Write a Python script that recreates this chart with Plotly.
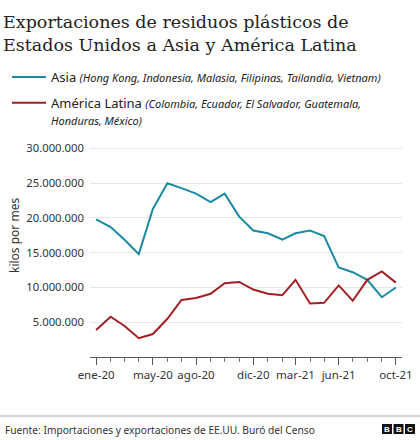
import plotly.graph_objects as go

# monthly exports, kilos per month
months = [
    "2020-01-01", "2020-02-01", "2020-03-01", "2020-04-01", "2020-05-01", "2020-06-01",
    "2020-07-01", "2020-08-01", "2020-09-01", "2020-10-01", "2020-11-01", "2020-12-01",
    "2021-01-01", "2021-02-01", "2021-03-01", "2021-04-01", "2021-05-01", "2021-06-01",
    "2021-07-01", "2021-08-01", "2021-09-01", "2021-10-01",
]
asia = [
    19.8e6, 18.7e6, 16.9e6, 14.8e6, 21.3e6, 25.0e6, 24.3e6, 23.5e6, 22.3e6, 23.5e6, 20.2e6,
    18.2e6, 17.8e6, 16.9e6, 17.8e6, 18.2e6, 17.4e6, 12.9e6, 12.2e6, 11.1e6, 8.6e6, 10.0e6,
]
latam = [
    3.9e6, 5.8e6, 4.5e6, 2.7e6, 3.3e6, 5.5e6, 8.2e6, 8.5e6, 9.1e6, 10.6e6, 10.8e6,
    9.7e6, 9.1e6, 8.9e6, 11.1e6, 7.7e6, 7.8e6, 10.3e6, 8.1e6, 11.1e6, 12.3e6, 10.7e6,
]
tick_months = ["2020-01-01", "2020-05-01", "2020-08-01", "2020-12-01",
               "2021-03-01", "2021-06-01", "2021-10-01"]
tick_labels = ["ene-20", "may-20", "ago-20", "dic-20", "mar-21", "jun-21", "oct-21"]
y_ticks = [5e6, 10e6, 15e6, 20e6, 25e6, 30e6]

SANS = "Noto Sans"
W, H = 420, 440
L, R, T, B = 90, 18, 145, 83
PW, PH = W - L - R, H - T - B


def px(x):
    return (x - L) / PW


def py(y):
    return (H - B - y) / PH


fig = go.Figure()

fig.add_trace(go.Scatter(
    x=months, y=asia, mode="lines", legendgroup="asia",
    line=dict(color="#1a8aa3", width=2),
    name="Asia <span style='font-size:11px'><i>(Hong Kong, Indonesia, Malasia, Filipinas, Tailandia, Vietnam)</i></span>",
))
fig.add_trace(go.Scatter(
    x=months, y=latam, mode="lines", legendgroup="latam",
    line=dict(color="#a31f23", width=2),
    name="América Latina <span style='font-size:11px'><i>(Colombia, Ecuador, El Salvador, Guatemala,</i></span>"
         "<br><span style='font-size:11px'><i>Honduras, México)</i></span>",
))

fig.update_layout(
    width=W, height=H,
    margin=dict(l=L, r=R, t=T, b=B, autoexpand=False),
    paper_bgcolor="white", plot_bgcolor="white",
    separators=",.",
    font=dict(family=SANS, color="#404040"),
    legend=dict(
        x=px(7), y=py(62), xanchor="left", yanchor="top",
        orientation="v", traceorder="grouped",
        font=dict(family=SANS, size=13, color="#222222"),
        itemwidth=34, tracegroupgap=6, valign="top",
        bgcolor="rgba(0,0,0,0)",
    ),
    xaxis=dict(
        type="date", automargin=False,
        range=["2019-12-19", "2021-10-14"],
        tickvals=tick_months, ticktext=tick_labels, tickangle=0,
        ticks="outside", ticklen=7, tickcolor="#555555",
        showline=True, linecolor="#555555", linewidth=1,
        showgrid=False, zeroline=False,
        tickfont=dict(size=11.5, color="#333333"),
        minor=dict(ticks="outside", ticklen=4, dtick="M1", tick0="2020-01-01",
                   tickcolor="#777777", showgrid=False),
    ),
    yaxis=dict(
        range=[0, 30.5e6], automargin=False,
        tickvals=y_ticks, tickformat=",d",
        showgrid=True, gridcolor="#e8e8e8", gridwidth=1,
        zeroline=False, showline=False, ticks="",
        ticklabelstandoff=5,
        tickfont=dict(size=11.3, color="#333333"),
    ),
)

# y axis title
fig.add_annotation(xref="paper", yref="paper", x=px(14), y=py(236),
                   xanchor="center", yanchor="middle", showarrow=False, textangle=-90,
                   text="kilos por mes", font=dict(family=SANS, size=12, color="#333333"))

# two-line title
fig.add_annotation(xref="paper", yref="paper", x=px(1), y=py(10),
                   xanchor="left", yanchor="top", showarrow=False, align="left",
                   text="Exportaciones de residuos plásticos de<br>Estados Unidos a Asia y América Latina",
                   font=dict(family="DejaVu Serif", size=17.5, color="#222222"))

# footer rule and source
fig.add_shape(type="line", xref="paper", yref="paper",
              x0=px(0), x1=px(W), y0=py(416), y1=py(416),
              line=dict(color="#aaaaaa", width=1))
fig.add_annotation(xref="paper", yref="paper", x=px(3), y=py(430),
                   xanchor="left", yanchor="middle", showarrow=False,
                   text="Fuente: Importaciones y exportaciones de EE.UU. Buró del Censo",
                   font=dict(family=SANS, size=10.2, color="#333333"))

# BBC blocks
for i, letter in enumerate("BBC"):
    x0 = 382 + i * 11.5
    fig.add_shape(type="rect", xref="paper", yref="paper",
                  x0=px(x0), x1=px(x0 + 10), y0=py(434), y1=py(424),
                  fillcolor="#111111", line=dict(width=0))
    fig.add_annotation(xref="paper", yref="paper", x=px(x0 + 5), y=py(429),
                       xanchor="center", yanchor="middle", showarrow=False,
                       text="<b>" + letter + "</b>",
                       font=dict(family="Liberation Sans", size=8, color="white"))

fig.write_html("out.html", config={"displayModeBar": False},
               post_script="document.body.style.margin = '0';")
